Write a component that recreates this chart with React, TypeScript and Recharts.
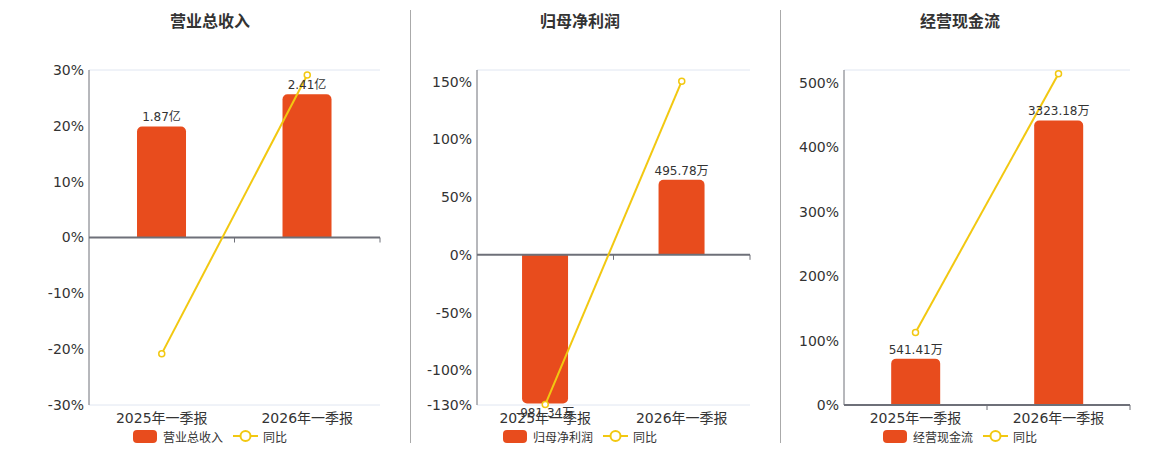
import React from "react";
import {
  ComposedChart,
  Bar,
  Line,
  XAxis,
  YAxis,
  CartesianGrid,
  ReferenceLine,
  LabelList,
  Legend,
} from "recharts";

const categories = ["2025年一季报", "2026年一季报"];

// 营业总收入 (亿) and yoy %
const revenue = [1.87, 2.41];
const revenueYoy = [-20.8, 29.1];
const revenueTicks = [-30, -20, -10, 0, 10, 20, 30];

// 归母净利润 (万) and yoy %
const netProfit = [-981.34, 495.78];
const netProfitYoy = [-129.6, 150.3];
const netProfitTicks = [-130, -100, -50, 0, 50, 100, 150, 160];

// 经营现金流 (万) and yoy %
const cashFlow = [541.41, 3323.18];
const cashFlowYoy = [112.6, 514.3];
const cashFlowTicks = [0, 100, 200, 300, 400, 500, 520];

const BAR_COLOR = "#E84C1D";
const LINE_COLOR = "#F2C811";
const AXIS_COLOR = "#6E7079";
const GRID_COLOR = "#E0E6F1";
const TEXT_COLOR = "#333";
const FONT = "'DejaVu Sans', 'Noto Sans CJK SC', sans-serif";

// x axis sitting on the zero line, with ticks at category boundaries
const ZeroAxis = (props: any) => {
  const { x1, y1, x2, y2 } = props;
  const step = (x2 - x1) / categories.length;
  return (
    <g>
      <line x1={x1} y1={y1} x2={x2} y2={y2} stroke={AXIS_COLOR} strokeWidth={2} />
      {categories.map((c, i) => (
        <line
          key={c}
          x1={x1 + step * (i + 1)}
          x2={x1 + step * (i + 1)}
          y1={y1}
          y2={y1 + 5}
          stroke={AXIS_COLOR}
          strokeWidth={1}
        />
      ))}
    </g>
  );
};

const LegendContent = (props: any) => {
  const { payload = [] } = props;
  // bar first, then the yoy line
  const items = [...payload].sort(
    (a: any, b: any) => (a.type === "rect" ? 0 : 1) - (b.type === "rect" ? 0 : 1)
  );
  return (
    <div
      style={{
        display: "flex",
        justifyContent: "center",
        alignItems: "center",
        height: 16,
        fontSize: 12,
        color: TEXT_COLOR,
        fontFamily: FONT,
        gap: 10,
      }}
    >
      {items.map((entry: any) => (
        <div key={entry.value} style={{ display: "flex", alignItems: "center" }}>
          {entry.type === "rect" ? (
            <span
              style={{
                display: "inline-block",
                width: 24,
                height: 13,
                borderRadius: 4,
                background: BAR_COLOR,
                marginRight: 6,
              }}
            />
          ) : (
            <svg width={25} height={14} style={{ marginRight: 5 }}>
              <line x1={0} y1={7} x2={25} y2={7} stroke={LINE_COLOR} strokeWidth={2} />
              <circle cx={12.5} cy={7} r={5} fill="#fff" stroke={LINE_COLOR} strokeWidth={2} />
            </svg>
          )}
          <span>{entry.value}</span>
        </div>
      ))}
    </div>
  );
};

type PanelProps = {
  title: string;
  values: number[];
  yoy: number[];
  ticks: number[];
  unit: string;
  barDomain: [number, number];
  left: number;
  width: number;
  yAxisWidth: number;
  center: number;
  hideTopTick?: boolean;
};

function Panel({
  title,
  values,
  yoy,
  ticks,
  unit,
  barDomain,
  left,
  width,
  yAxisWidth,
  center,
  hideTopTick,
}: PanelProps) {
  const data = categories.map((name, i) => ({ name, value: values[i], yoy: yoy[i] }));
  const top = ticks[ticks.length - 1];
  return (
    <>
      <div
        style={{
          position: "absolute",
          left: center - 100,
          top: 12,
          width: 200,
          textAlign: "center",
          fontFamily: FONT,
          fontWeight: "bold",
          fontSize: 16,
          lineHeight: "20px",
          color: TEXT_COLOR,
        }}
      >
        {title}
      </div>
      <div style={{ position: "absolute", left, top: 0 }}>
        <ComposedChart
          width={width}
          height={450}
          data={data}
          barCategoryGap="33%"
          margin={{ top: 70, right: 10, left: 0, bottom: 6 }}
          style={{ fontFamily: FONT }}
        >
          <CartesianGrid vertical={false} stroke={GRID_COLOR} />
          <XAxis
            dataKey="name"
            height={23}
            axisLine={false}
            tickLine={false}
            tick={{ fontSize: 14, fill: TEXT_COLOR }}
            interval={0}
          />
          <YAxis
            yAxisId="pct"
            width={yAxisWidth}
            domain={[ticks[0], top]}
            ticks={ticks}
            interval={0}
            axisLine={{ stroke: AXIS_COLOR }}
            tickLine={false}
            tickSize={4}
            tickMargin={1}
            tick={{ fontSize: 14, fill: TEXT_COLOR }}
            tickFormatter={(v: number) => (hideTopTick && v === top ? "" : `${v}%`)}
          />
          <YAxis yAxisId="bar" orientation="right" hide domain={barDomain} />
          <Bar
            yAxisId="bar"
            dataKey="value"
            name={title}
            fill={BAR_COLOR}
            radius={[5, 5, 0, 0]}
            legendType="rect"
            isAnimationActive={false}
          >
            <LabelList
              dataKey="value"
              position="top"
              offset={5}
              formatter={(v: any) => `${v}${unit}`}
              style={{ fontSize: 12, fill: TEXT_COLOR }}
            />
          </Bar>
          <ReferenceLine yAxisId="pct" y={0} shape={ZeroAxis} />
          <Line
            yAxisId="pct"
            dataKey="yoy"
            name="同比"
            stroke={LINE_COLOR}
            strokeWidth={2}
            legendType="line"
            dot={{ r: 3, fill: "#fff", stroke: LINE_COLOR, strokeWidth: 1.5 }}
            isAnimationActive={false}
          />
          <Legend
            verticalAlign="bottom"
            content={<LegendContent />}
            wrapperStyle={{ left: 0, width: (center - left) * 2, bottom: 6, height: 16 }}
          />
        </ComposedChart>
      </div>
    </>
  );
}

export default function App() {
  return (
    <div
      style={{
        position: "absolute",
        left: 0,
        top: 0,
        width: 1160,
        height: 450,
        background: "#fff",
      }}
    >
      <Panel
        title="营业总收入"
        values={revenue}
        yoy={revenueYoy}
        ticks={revenueTicks}
        unit="亿"
        barDomain={[-2.82, 2.82]}
        left={0}
        width={390}
        yAxisWidth={89}
        center={210}
      />
      <div style={{ position: "absolute", left: 410, top: 10, width: 1, height: 433, background: "#aaa" }} />
      <Panel
        title="归母净利润"
        values={netProfit}
        yoy={netProfitYoy}
        ticks={netProfitTicks}
        unit="万"
        barDomain={[-992, 1221]}
        left={410}
        width={350}
        yAxisWidth={67}
        center={580}
        hideTopTick
      />
      <div style={{ position: "absolute", left: 780, top: 10, width: 1, height: 433, background: "#aaa" }} />
      <Panel
        title="经营现金流"
        values={cashFlow}
        yoy={cashFlowYoy}
        ticks={cashFlowTicks}
        unit="万"
        barDomain={[0, 3913]}
        left={781}
        width={359}
        yAxisWidth={63}
        center={960}
        hideTopTick
      />
    </div>
  );
}
